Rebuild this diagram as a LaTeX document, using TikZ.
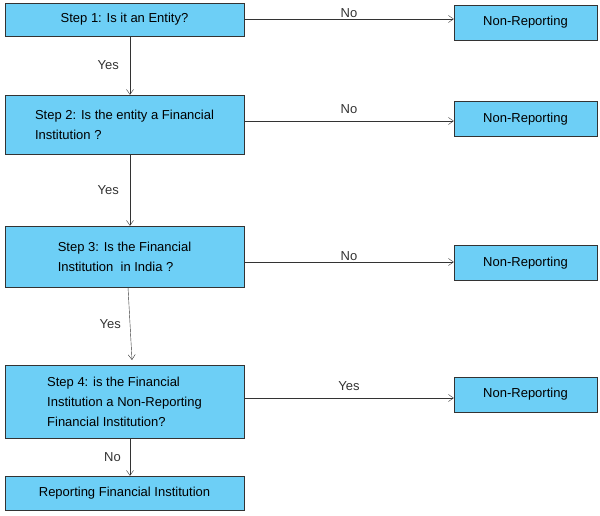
\documentclass[tikz,border=0pt]{standalone}
\usepackage{fontspec}
\setmainfont{Liberation Sans}
\usetikzlibrary
  {
    positioning, % place nodes relative to other nodes
    arrows.meta,
  }
\definecolor{stepblue}{HTML}{6DCFF6}

\begin{document}
\begin{tikzpicture}
    [
      x=1pt, y=-1pt,
      font=\fontsize{13}{20}\selectfont,
      question/.style=
        {
          rectangle,
          draw=black!80,
          fill=stepblue,
          minimum width=239pt,
          align=left,
          inner sep=0pt,
        },
      outcome/.style=
        {
          rectangle,
          draw=black!80,
          fill=stepblue,
          minimum width=143pt,
          minimum height=35pt,
        },
      flow/.style={-{Straight Barb[length=5pt,width=7pt]}, black!80},
      answer/.style={inner sep=1pt},
    ]
    \useasboundingbox (0,0) rectangle (600,516);

    \node (step1) [question, minimum height=33pt] at (124.5,19.5) {Step 1: Is it an Entity?};
    \node (step2) [question, minimum height=59pt] at (124.5,124.5)
      {Step 2: Is the entity a Financial\\Institution ?};
    \node (step3) [question, minimum height=61pt] at (124.5,256.5)
      {Step 3: Is the Financial\\Institution\ \ in India ?};
    \node (step4) [question, minimum height=73pt] at (124.5,401.5)
      {Step 4: is the Financial\\Institution a Non-Reporting\\Financial Institution?};
    \node (report) [question, minimum height=34pt, align=center] at (124.5,493)
      {Reporting Financial Institution};

    \node (nonrep1) [outcome] at (525.5,22.5) {Non-Reporting};
    \node (nonrep2) [outcome] at (525.5,119) {Non-Reporting};
    \node (nonrep3) [outcome] at (525.5,263) {Non-Reporting};
    \node (nonrep4) [outcome] at (525.5,394.5) {Non-Reporting};

    % horizontal exits
    \draw [flow] (step1.east |- 0,19) -- (nonrep1.west |- 0,19)
      node [answer, midway, above] {No};
    \draw [flow] (step2.east |- 0,121) -- (nonrep2.west |- 0,121)
      node [answer, midway, above, yshift=6pt] {No};
    \draw [flow] (step3.east |- 0,262) -- (nonrep3.west |- 0,262)
      node [answer, midway, above] {No};
    \draw [flow] (step4.east |- 0,398) -- (nonrep4.west |- 0,398)
      node [answer, midway, above, yshift=6pt] {Yes};

    % downward path
    \draw [flow] (step1.south -| 130,0) -- (step2.north -| 130,0)
      node [answer, midway, left, xshift=-10pt] {Yes};
    \draw [flow] (step2.south -| 130,0) -- (step3.north -| 130,0)
      node [answer, midway, left, xshift=-10pt] {Yes};
    \draw [flow] (step3.south -| 128,0) -- (132,360)
      node [answer, midway, left, xshift=-8pt] {Yes};
    \draw [flow] (step4.south -| 130,0) -- (report.north -| 130,0)
      node [answer, midway, left, xshift=-8pt] {No};
\end{tikzpicture}
\end{document}
